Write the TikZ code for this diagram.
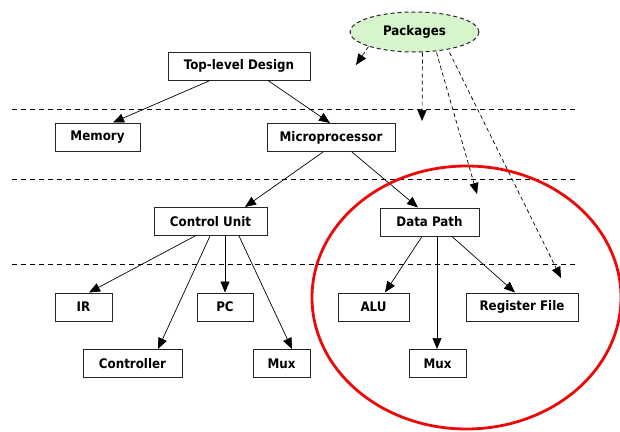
\documentclass[tikz,border=0pt]{standalone}
\usepackage{fontspec}
\setmainfont{DejaVu Sans Condensed}
\usetikzlibrary{arrows.meta,shapes.geometric}
\definecolor{pkggreen}{RGB}{214,245,204}
\definecolor{ringred}{RGB}{235,10,10}

\begin{document}
\begin{tikzpicture}[x=1pt,y=-1pt,
  box/.style={draw=black!85,line width=1pt,fill=white,minimum height=28pt,
    inner sep=0pt,font=\fontsize{13.2}{15}\selectfont\bfseries},
  link/.style={line width=0.7pt,-{Triangle[length=11pt,width=9pt]}},
  pkglink/.style={link,dash pattern=on 4pt off 3pt},
  level/.style={line width=1pt,dash pattern=on 5pt off 4pt}]
\useasboundingbox (0,0) rectangle (620,431);

% level separators
\coordinate (l1a) at (12,109);  \coordinate (l1b) at (575,109);
\coordinate (l2a) at (12,179);  \coordinate (l2b) at (575,179);
\coordinate (l3a) at (12,264);  \coordinate (l3b) at (575,264);
\draw[level] (l1a) -- (l1b);
\draw[level] (l2a) -- (l2b);
\draw[level] (l3a) -- (l3b);

% design hierarchy
\node[box,minimum width=142pt] (top)   at (239,66)    {Top-level Design};
\node[box,minimum width=85pt]  (mem)   at (97.5,137)  {Memory};
\node[box,minimum width=128pt] (micro) at (331,137.5) {Microprocessor};
\node[box,minimum width=113pt] (cu)    at (210.5,221.5) {Control Unit};
\node[box,minimum width=99pt]  (dp)    at (429.5,222) {Data Path};
\node[box,minimum width=57pt]  (ir)    at (83.5,307)  {IR};
\node[box,minimum width=56pt]  (pc)    at (225,307)   {PC};
\node[box,minimum width=99pt]  (ctrl)  at (132.5,363.5) {Controller};
\node[box,minimum width=57pt]  (muxa)  at (281.5,363.5) {Mux};
\node[box,minimum width=71pt]  (alu)   at (373.5,307) {ALU};
\node[box,minimum width=112pt] (rf)    at (522,307)   {Register File};
\node[box,minimum width=57pt]  (muxb)  at (437.5,363.5) {Mux};

\draw[link] ([xshift=-29pt]top.south) -- ([xshift=15.5pt]mem.north);
\draw[link] ([xshift=29pt]top.south) -- ([xshift=-1pt]micro.north);
\draw[link] ([xshift=-8pt]micro.south) -- ([xshift=34.5pt]cu.north);
\draw[link] ([xshift=21pt]micro.south) -- ([xshift=-11.5pt]dp.north);
\draw[link] ([xshift=-15.5pt]cu.south) -- ([xshift=5.5pt]ir.north);
\draw[link] ([xshift=-0.5pt]cu.south) -- ([xshift=25.5pt]ctrl.north);
\draw[link] ([xshift=14.5pt]cu.south) -- (pc.north);
\draw[link] ([xshift=28.5pt]cu.south) -- ([xshift=10.5pt]muxa.north);
\draw[link] ([xshift=-7.5pt]dp.south) -- ([xshift=11.5pt]alu.north);
\draw[link] ([xshift=7.5pt]dp.south) -- ([xshift=-0.5pt]muxb.north);
\draw[link] ([xshift=22.5pt]dp.south) -- ([xshift=-7pt]rf.north);

% packages
\node[ellipse,draw=black!85,line width=1pt,dash pattern=on 4pt off 3pt,
  fill=pkggreen,minimum width=129pt,minimum height=40pt,inner sep=0pt,
  font=\fontsize{13.2}{15}\selectfont\bfseries] (pkg) at (414.5,32) {Packages};
\coordinate (p1) at (356,65);
\coordinate (p2) at (422,121);
\coordinate (p3) at (477,194);
\coordinate (p4) at (561,278);
\draw[pkglink] (pkg.south west) -- (p1);
\draw[pkglink] ([xshift=8pt]pkg.south) -- (p2);
\draw[pkglink] ([xshift=22pt]pkg.south) -- (p3);
\draw[pkglink] ([xshift=35pt]pkg.south) -- (p4);

% highlight ring
\draw[ringred,line width=2.8pt] (466.5,297.5) ellipse [x radius=154.5pt, y radius=131.5pt];
\end{tikzpicture}
\end{document}
